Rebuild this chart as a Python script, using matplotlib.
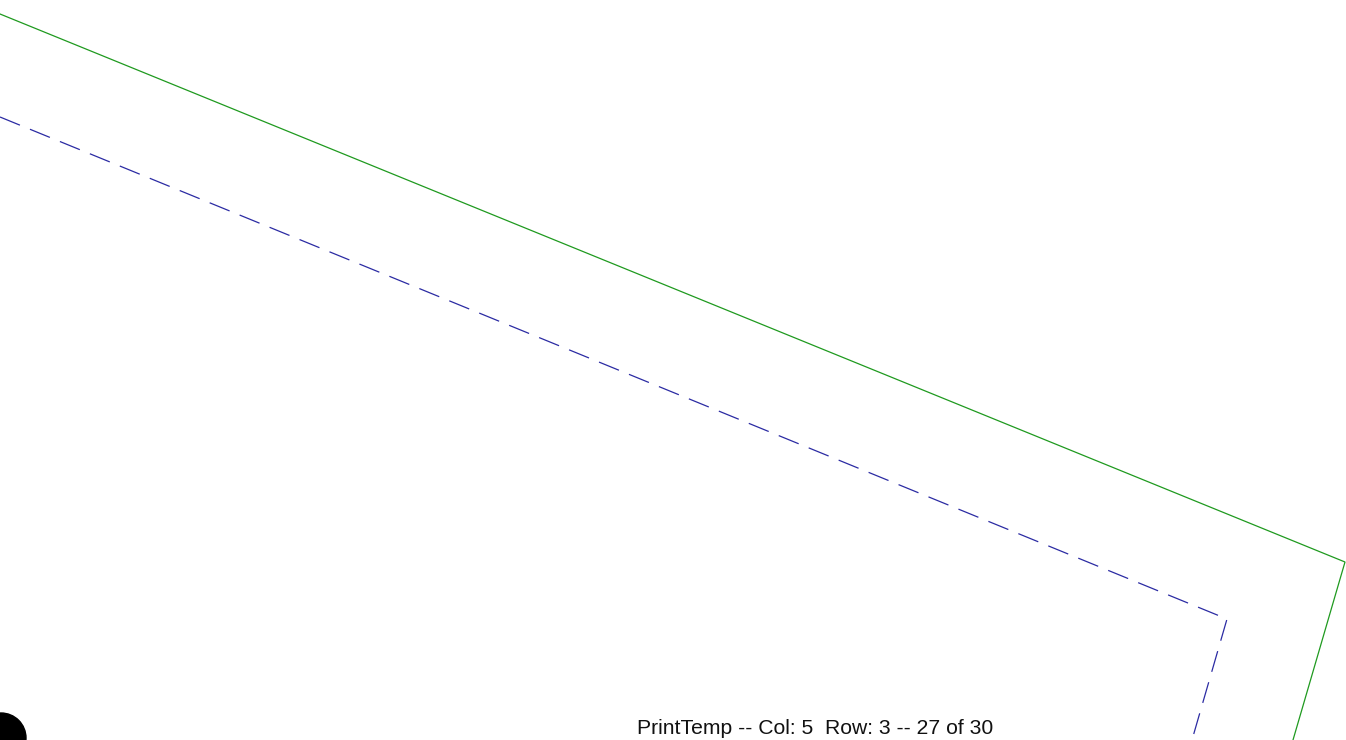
import matplotlib.pyplot as plt
from matplotlib.patches import Circle

# page geometry in pixels (y grows downward)
page_w = 1346
page_h = 740

# solid green outline
green_x = [0, 1345, 1293]
green_y = [14, 562, 740]

# dashed blue outline
blue_x = [0, 1227, 1192]
blue_y = [117, 619, 740]

# black dot in the corner
dot_x = 1
dot_y = 738
dot_r = 25

footer = 'PrintTemp -- Col: 5  Row: 3 -- 27 of 30'

plt.rcParams['lines.scale_dashes'] = False

fig = plt.figure(figsize=(13.46, 7.4), dpi=100)
ax = fig.add_axes([0, 0, 1, 1])
ax.set_xlim(0, page_w)
ax.set_ylim(page_h, 0)
ax.axis('off')

ax.plot(green_x, green_y, color='#1f9a1f', linewidth=0.9, solid_joinstyle='miter')
ax.plot(blue_x, blue_y, color='#2b2ba3', linewidth=0.9,
        linestyle=(0, (15.5, 7.8)), dash_joinstyle='miter')

ax.add_patch(Circle((dot_x, dot_y), dot_r, color='black'))

ax.text(815, 734, footer, family='Liberation Sans', fontsize=15.2,
        ha='center', va='baseline', color='#111111')

plt.savefig('out.png', dpi=100)
